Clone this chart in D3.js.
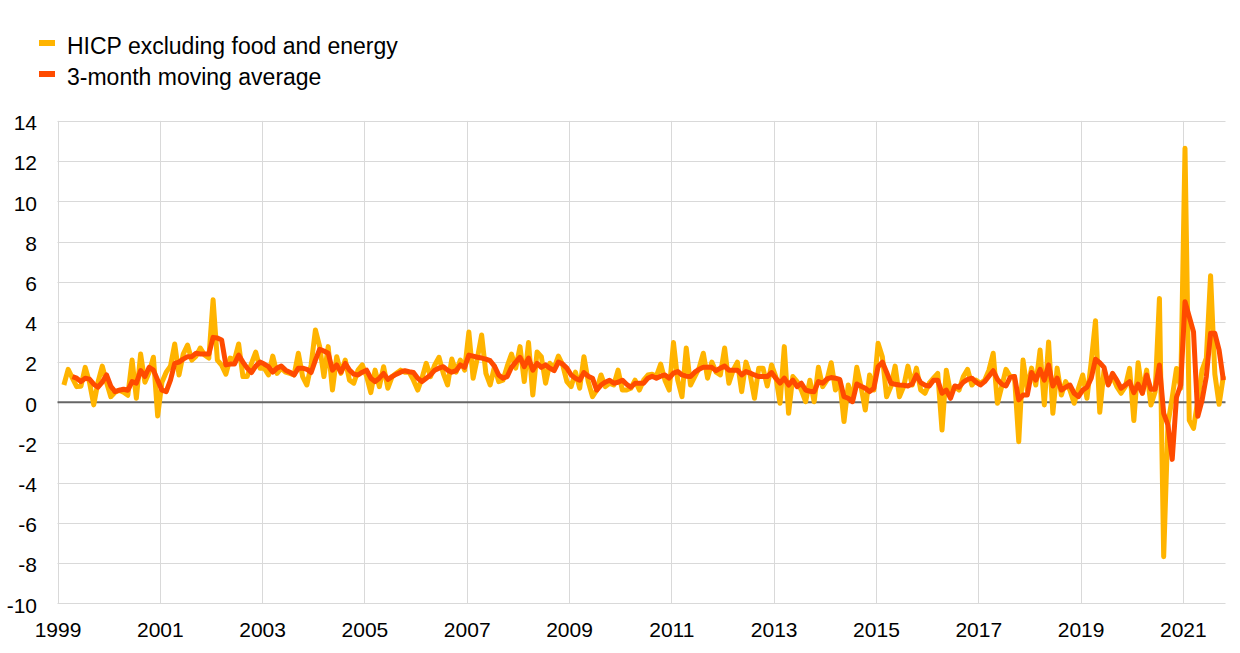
<!DOCTYPE html>
<html>
<head>
<meta charset="utf-8">
<script src="https://cdn.jsdelivr.net/npm/d3@7"></script>
<style>
  html, body { margin: 0; padding: 0; background: #ffffff; }
  svg { display: block; }
  text { font-family: "Liberation Sans", Arial, sans-serif; fill: #000; }
</style>
</head>
<body>
<svg id="chart" width="1240" height="653"></svg>
<script>
// ---- Data (monthly, first observation = Feb 1999) ----
const firstMonth = "1999-02";
const seriesNames = ["HICP excluding food and energy", "3-month moving average"];
const yearLabels = ["1999","2001","2003","2005","2007","2009","2011","2013","2015","2017","2019","2021"];
const yTicks = [-10, -8, -6, -4, -2, 0, 2, 4, 6, 8, 10, 12, 14];

const hicpExFoodEnergy = [
  0.86, 1.64, 1.2, 0.78, 0.8, 1.74, 1.0, -0.13, 1.0, 1.8, 1.0,
  0.28, 0.5, 0.6, 0.5, 0.35, 2.1, 0.2, 2.4, 1.0, 1.5, 2.24, -0.68,
  1.0, 1.5, 1.8, 2.9, 1.36, 2.4, 2.85, 2.1, 2.3, 2.7, 2.35, 2.2,
  5.1, 2.1, 1.85, 1.4, 2.2, 2.1, 2.9, 1.28, 1.28, 1.94, 2.5, 1.7,
  1.7, 1.36, 2.3, 1.44, 1.7, 1.5, 1.44, 1.36, 2.44, 1.28, 0.86, 1.86,
  3.6, 2.77, 1.28, 2.77, 0.61, 2.27, 1.44, 2.1, 1.1, 0.95, 1.6, 1.86,
  1.3, 0.48, 1.6, 0.78, 1.77, 0.7, 1.28, 1.44, 1.6, 1.5, 1.5, 1.1,
  0.61, 1.2, 1.94, 1.28, 1.86, 2.24, 1.44, 0.86, 2.15, 1.5, 2.1, 1.6,
  3.5, 1.2, 2.2, 3.35, 1.44, 0.86, 1.77, 1.03, 1.1, 1.8, 2.4, 1.7,
  2.77, 1.03, 2.97, 0.36, 2.5, 2.27, 0.95, 1.94, 1.7, 2.3, 1.86, 1.03,
  0.78, 1.5, 0.7, 2.27, 1.03, 0.28, 0.61, 1.36, 0.78, 0.95, 0.86, 1.6,
  0.61, 0.61, 0.7, 1.1, 0.61, 1.1, 1.36, 1.4, 1.3, 1.9, 1.1, 0.61,
  2.97, 1.1, 0.28, 2.7, 0.86, 1.28, 1.7, 2.44, 1.2, 2.0, 1.5, 1.36,
  2.7, 0.95, 1.6, 2.0, 0.53, 2.0, 1.36, 0.2, 1.7, 1.7, 0.81, 1.86,
  1.28, -0.05, 2.77, -0.55, 1.28, 1.03, 0.61, 0.03, 1.1, 0.03, 1.74, 0.78,
  1.1, 1.97, 0.61, 1.1, -0.96, 0.86, 0.12, 1.74, 0.78, -0.38, 1.36, 0.61,
  2.94, 2.27, 0.28, 0.78, 1.8, 0.28, 0.78, 1.8, 0.86, 1.7, 0.61, 0.45,
  0.95, 1.2, 1.44, -1.38, 1.6, 0.45, 0.78, 0.61, 1.28, 1.64, 0.86, 1.1,
  0.95, 1.1, 1.6, 2.44, -0.05, 0.78, 1.64, 1.28, 1.28, -1.96, 2.1, 0.61,
  1.7, 0.86, 2.6, -0.13, 3.0, -0.55, 1.7, 0.36, 1.03, 0.61, -0.05, 0.7,
  1.36, 0.2, 2.0, 4.06, -0.5, 1.6, 0.9, 1.28, 0.78, 0.45, 0.78, 1.69,
  -0.91, 1.97, 0.45, 1.6, -0.13, 0.53, 5.17, -7.68, -1.09, 0.25, 1.68, 0.7,
  12.64, -0.9, -1.3, 0.1, 1.6, 2.2, 6.3, 1.4, -0.1, 1.3
];

// first observation = Apr 1999
const movingAverage3m = [
  1.28, 1.2, 1.03, 1.2, 1.15, 0.9, 0.75, 1.0, 1.36,
  0.8, 0.53, 0.6, 0.65, 0.6, 1.03, 0.95, 1.58, 1.28, 1.74, 1.6, 1.1,
  0.6, 0.53, 1.1, 1.94, 2.0, 2.15, 2.27, 2.27, 2.44, 2.4, 2.4, 2.4,
  3.23, 3.2, 3.1, 1.86, 1.9, 1.9, 2.35, 2.0, 1.7, 1.48, 1.8, 2.0,
  1.9, 1.77, 1.5, 1.7, 1.8, 1.6, 1.5, 1.36, 1.7, 1.7, 1.64, 1.48,
  2.1, 2.64, 2.55, 2.44, 1.6, 1.86, 1.5, 1.94, 1.6, 1.4, 1.36, 1.5,
  1.6, 1.2, 1.03, 1.2, 1.44, 1.14, 1.28, 1.4, 1.5, 1.57, 1.52, 1.48,
  1.2, 1.03, 1.2, 1.36, 1.6, 1.7, 1.77, 1.6, 1.5, 1.57, 1.86, 1.74,
  2.35, 2.3, 2.24, 2.2, 2.15, 2.07, 1.8, 1.36, 1.2, 1.28, 1.74, 2.0,
  2.24, 1.77, 2.2, 1.6, 1.94, 1.74, 1.86, 1.7, 1.57, 2.0, 1.9, 1.7,
  1.36, 1.2, 1.1, 1.48, 1.3, 1.2, 0.61, 0.86, 1.0, 1.1, 0.95, 1.0,
  1.1, 0.9, 0.75, 0.95, 0.95, 0.95, 1.2, 1.3, 1.2, 1.3, 1.36, 1.2,
  1.45, 1.53, 1.36, 1.3, 1.28, 1.5, 1.64, 1.74, 1.74, 1.74, 1.57, 1.7,
  1.8, 1.6, 1.6, 1.6, 1.36, 1.53, 1.45, 1.36, 1.28, 1.28, 1.28, 1.48,
  1.2, 0.95, 1.2, 0.86, 1.1, 0.78, 0.95, 0.61, 0.55, 0.53, 1.03, 0.95,
  1.16, 1.23, 1.2, 1.14, 0.28, 0.2, 0.03, 0.91, 0.8, 0.7, 0.53, 0.7,
  1.77, 2.0, 1.5, 0.95, 0.9, 0.86, 0.85, 0.81, 0.91, 1.36, 0.98, 0.85,
  0.81, 1.1, 1.1, 0.45, 0.61, 0.2, 0.81, 0.75, 1.0, 1.14, 1.2, 1.0,
  0.86, 1.03, 1.3, 1.57, 1.14, 0.9, 0.81, 1.24, 1.28, 0.12, 0.36, 0.36,
  1.48, 1.1, 1.64, 1.1, 1.86, 0.81, 1.2, 0.61, 0.75, 0.86, 0.45, 0.28,
  0.61, 0.75, 1.2, 2.14, 1.97, 1.74, 0.86, 1.44, 1.1, 0.7, 0.86, 1.03,
  0.48, 0.9, 0.45, 1.36, 0.65, 0.65, 1.86, -0.55, -1.13, -2.84, 0.25, 0.86,
  5.0, 4.26, 3.5, -0.7, 0.1, 1.28, 3.43, 3.43, 2.6, 1.1
];

const colors = ["#FFB400", "#FF4B00"];

// ---- Layout ----
const svg = d3.select("#chart");
const plotLeft = 57.5, plotRight = 1225.5, plotTop = 120.9, plotBottom = 603.3;
const nMonths = 274; // Jan 1999 .. Oct 2021

const x = d3.scaleLinear().domain([0, nMonths]).range([plotLeft, plotRight]);
const y = d3.scaleLinear().domain([-10, 14]).range([plotBottom, plotTop]);

// month offsets relative to Jan 1999
const hicpStart = 1;   // Feb 1999
const maStart = 3;     // Apr 1999

// grid: horizontal
svg.append("g").selectAll("line").data(yTicks.filter(v => v !== 0)).join("line")
  .attr("x1", plotLeft).attr("x2", plotRight)
  .attr("y1", d => Math.round(y(d)) + 0.5).attr("y2", d => Math.round(y(d)) + 0.5)
  .attr("stroke", "#d9d9d9").attr("stroke-width", 1);

// grid: vertical
const yearIdx = yearLabels.map((d, i) => i * 24);
svg.append("g").selectAll("line").data(yearIdx).join("line")
  .attr("x1", d => Math.round(x(d)) + 0.5).attr("x2", d => Math.round(x(d)) + 0.5)
  .attr("y1", plotTop).attr("y2", plotBottom)
  .attr("stroke", "#d9d9d9").attr("stroke-width", 1);

// zero line
svg.append("line")
  .attr("x1", plotLeft).attr("x2", plotRight)
  .attr("y1", y(0)).attr("y2", y(0))
  .attr("stroke", "#666666").attr("stroke-width", 2);

// axes
const xAxis = d3.axisBottom(x).tickValues(yearIdx)
  .tickFormat((d, i) => yearLabels[i]).tickSize(0).tickPadding(0);
const gx = svg.append("g").attr("transform", `translate(0,${plotBottom})`).call(xAxis);
gx.select(".domain").remove();
gx.selectAll("text").attr("dy", null).attr("y", 34).attr("font-size", 21)
  .attr("font-family", "Liberation Sans, Arial, sans-serif").attr("fill", "#000");

const yAxis = d3.axisLeft(y).tickValues(yTicks).tickFormat(d => String(d))
  .tickSize(0).tickPadding(0);
const gy = svg.append("g").attr("transform", `translate(37,0)`).call(yAxis);
gy.select(".domain").remove();
gy.selectAll("text").attr("dy", "0.42em").attr("x", 0).attr("font-size", 21)
  .attr("font-family", "Liberation Sans, Arial, sans-serif").attr("fill", "#000");

// lines
const line = d3.line().x(d => x(d.m + 0.5)).y(d => y(d.v));
const hicpData = hicpExFoodEnergy.map((v, i) => ({ m: hicpStart + i, v }));
const maData = movingAverage3m.map((v, i) => ({ m: maStart + i, v }));

svg.append("path").datum(hicpData).attr("d", line)
  .attr("fill", "none").attr("stroke", colors[0]).attr("stroke-width", 5)
  .attr("stroke-linejoin", "round").attr("stroke-linecap", "butt");
svg.append("path").datum(maData).attr("d", line)
  .attr("fill", "none").attr("stroke", colors[1]).attr("stroke-width", 5)
  .attr("stroke-linejoin", "round").attr("stroke-linecap", "butt");

// legend
const legend = svg.append("g");
seriesNames.forEach((name, i) => {
  const yy = 43 + i * 31;
  legend.append("rect").attr("x", 39).attr("y", yy - 3).attr("width", 16).attr("height", 6)
    .attr("fill", colors[i]);
  legend.append("text").attr("x", 67).attr("y", yy + 10.5).attr("font-size", 23)
    .text(name);
});
</script>
</body>
</html>
